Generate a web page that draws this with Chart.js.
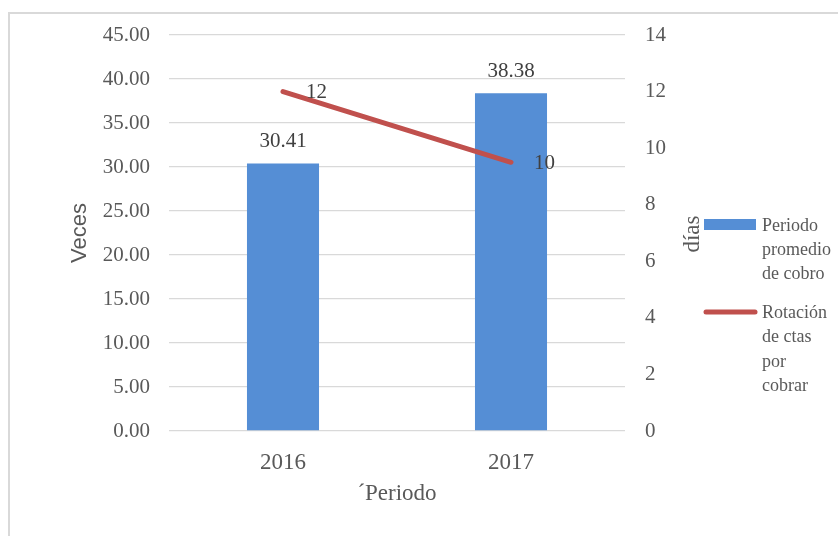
<!DOCTYPE html>
<html>
<head>
<meta charset="utf-8">
<script src="https://cdn.jsdelivr.net/npm/chart.js@4/dist/chart.umd.min.js"></script>
<style>
  html, body { margin: 0; padding: 0; background: #fff; overflow: hidden; }
  #frame { position: absolute; left: 8px; top: 12px; width: 900px; height: 600px;
           border-left: 2px solid #d9d9d9; border-top: 2px solid #d9d9d9; }
  #wrap { position: absolute; left: 0; top: 0; width: 838px; height: 536px; }
</style>
</head>
<body>
<div id="frame"></div>
<div id="wrap"><canvas id="chart"></canvas></div>
<script>
// Data
var years = ['2016', '2017'];
var periodoPromedio = [30.41, 38.38];   // left axis, "Veces"
var rotacionCtas = [12.0, 9.5];         // right axis, "días"
var seriesNames = [
    ['Periodo', 'promedio', 'de cobro'],
    ['Rotación', 'de ctas', 'por', 'cobrar']
];

var serif = '"Liberation Serif", "Times New Roman", serif';
var textGray = '#595959';

// value labels on bars and line points
var valueLabels = {
    id: 'valueLabels',
    afterDatasetsDraw: function (chart) {
        var ctx = chart.ctx;
        ctx.save();
        ctx.fillStyle = '#404040';
        ctx.font = '21px ' + serif;
        ctx.textBaseline = 'middle';
        chart.getDatasetMeta(0).data.forEach(function (bar, i) {
            ctx.textAlign = 'center';
            ctx.fillText(periodoPromedio[i].toFixed(2), bar.x, bar.y - 22);
        });
        chart.getDatasetMeta(1).data.forEach(function (pt, i) {
            ctx.textAlign = 'left';
            ctx.fillText(String(Math.round(rotacionCtas[i])), pt.x + 23, pt.y + 1);
        });
        ctx.restore();
    }
};

// right axis title (reads bottom to top) and wrapped legend
var sideTexts = {
    id: 'sideTexts',
    afterDraw: function (chart) {
        var ctx = chart.ctx;
        ctx.save();
        ctx.fillStyle = textGray;
        ctx.font = '23px ' + serif;
        ctx.textAlign = 'center';
        ctx.textBaseline = 'middle';
        ctx.translate(693, 234);
        ctx.rotate(-Math.PI / 2);
        ctx.fillText('días', 0, 0);
        ctx.restore();

        ctx.save();
        ctx.font = '18px ' + serif;
        ctx.fillStyle = textGray;
        ctx.textAlign = 'left';
        ctx.textBaseline = 'middle';
        // bar entry
        ctx.fillStyle = chart.data.datasets[0].backgroundColor;
        ctx.fillRect(704, 219, 52, 11);
        ctx.fillStyle = textGray;
        seriesNames[0].forEach(function (t, k) {
            ctx.fillText(t, 762, 226 + k * 24);
        });
        // line entry
        ctx.strokeStyle = chart.data.datasets[1].borderColor;
        ctx.lineWidth = 5;
        ctx.lineCap = 'round';
        ctx.beginPath();
        ctx.moveTo(706, 312);
        ctx.lineTo(755, 312);
        ctx.stroke();
        seriesNames[1].forEach(function (t, k) {
            ctx.fillText(t, 762, 313 + k * 24.5);
        });
        ctx.restore();
    }
};

var ctx = document.getElementById('chart').getContext('2d');
var chart = new Chart(ctx, {
    type: 'bar',
    data: {
        labels: years,
        datasets: [{
            label: seriesNames[0].join(' '),
            data: periodoPromedio,
            backgroundColor: '#558ED5',
            yAxisID: 'y',
            categoryPercentage: 1,
            barPercentage: 0.316,
            order: 1
        }, {
            type: 'line',
            label: seriesNames[1].join(' '),
            data: rotacionCtas,
            borderColor: '#C0504D',
            backgroundColor: '#C0504D',
            borderWidth: 5,
            borderCapStyle: 'round',
            pointRadius: 0,
            tension: 0,
            yAxisID: 'y1',
            order: 0
        }]
    },
    options: {
        responsive: true,
        maintainAspectRatio: false,
        animation: false,
        layout: { padding: { top: 35, left: 0, right: 0, bottom: 0 } },
        plugins: { legend: { display: false }, tooltip: { enabled: false } },
        scales: {
            x: {
                grid: { display: false },
                border: { display: false },
                ticks: { color: textGray, font: { family: serif, size: 23 }, padding: 10 },
                title: {
                    display: true, text: '´Periodo', color: textGray,
                    font: { family: serif, size: 23 }, padding: { top: 0, bottom: 28 }
                },
                afterFit: function (s) { s.height = 105; }
            },
            y: {
                position: 'left',
                min: 0, max: 45,
                ticks: {
                    stepSize: 5, color: textGray, padding: 19,
                    font: { family: serif, size: 21 },
                    callback: function (v) { return v.toFixed(2); }
                },
                grid: { color: '#d9d9d9', lineWidth: 1.3, drawTicks: false },
                border: { display: false },
                title: {
                    display: true, text: 'Veces', color: textGray,
                    font: { family: '"Liberation Sans", Arial, sans-serif', size: 22 },
                    padding: { top: 67, bottom: 0 }
                },
                afterFit: function (s) { s.width = 169; }
            },
            y1: {
                position: 'right',
                min: 0, max: 14,
                ticks: {
                    stepSize: 2, color: textGray, padding: 20,
                    font: { family: serif, size: 21 }
                },
                grid: { drawOnChartArea: false, drawTicks: false },
                border: { display: false },
                afterFit: function (s) { s.width = 213; }
            }
        }
    },
    plugins: [valueLabels, sideTexts]
});
</script>
</body>
</html>
